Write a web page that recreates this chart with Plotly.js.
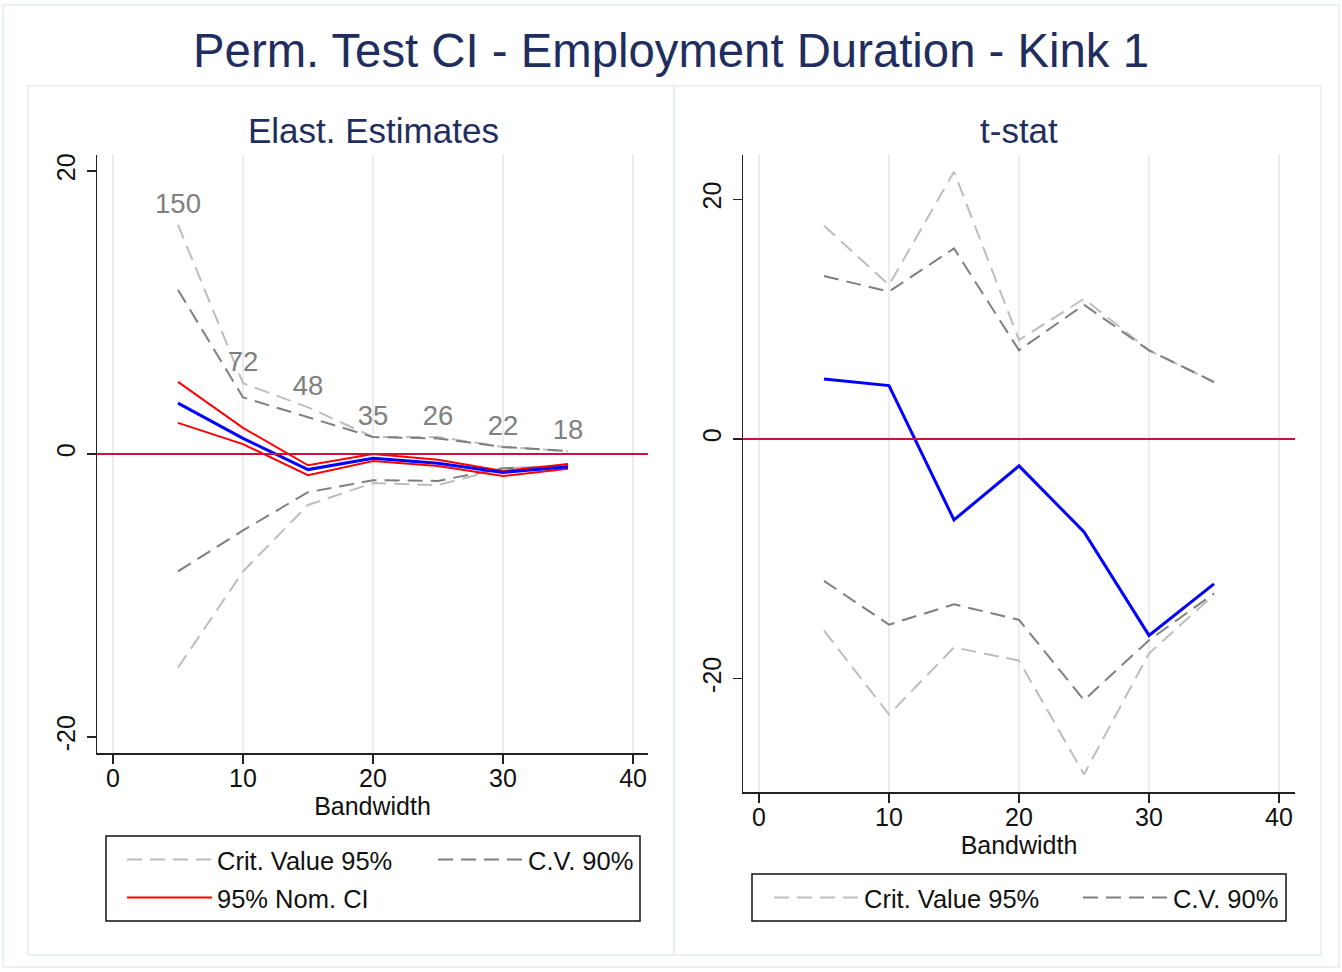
<!DOCTYPE html>
<html><head><meta charset="utf-8">
<script src="https://cdn.plot.ly/plotly-3.0.1.min.js"></script>
<style>html,body{margin:0;padding:0;background:#fff}</style>
</head><body><div id="chart" style="width:1342px;height:972px"></div>
<script>
// ---- data ----
const bandwidth = [5, 10, 15, 20, 25, 30, 35];
const sampleSize = ["150", "72", "48", "35", "26", "22", "18"];
const xTicks = [0, 10, 20, 30, 40];
const yTicks = [-20, 0, 20];
// Left panel: elasticity estimates
const elastEstimate = [3.6, 1.1, -1.1, -0.3, -0.65, -1.3, -0.9];
const nomCIUpper = [5.1, 1.85, -0.8, 0.0, -0.4, -1.2, -0.7];
const nomCILower = [2.2, 0.7, -1.5, -0.5, -0.85, -1.55, -1.05];
const elastCV95Upper = [16.2, 5.0, 3.3, 1.2, 1.2, 0.5, 0.2];
const elastCV90Upper = [11.6, 4.0, 2.6, 1.2, 1.1, 0.5, 0.2];
const elastCV95Lower = [-15.1, -8.3, -3.6, -2.05, -2.2, -1.0, -0.85];
const elastCV90Lower = [-8.3, -5.4, -2.7, -1.85, -1.9, -1.0, -0.9];
// Right panel: t-stat
const tStat = [5.0, 4.45, -6.76, -2.25, -7.76, -16.4, -12.1];
const tCV95Upper = [17.8, 12.85, 22.3, 8.26, 11.7, 7.4, 4.75];
const tCV90Upper = [13.6, 12.3, 15.9, 7.4, 11.2, 7.4, 4.75];
const tCV95Lower = [-16.0, -23.0, -17.4, -18.5, -28.0, -17.9, -13.0];
const tCV90Lower = [-11.85, -15.5, -13.8, -15.1, -21.8, -16.8, -12.9];

// ---- styling ----
const F = 'Liberation Sans, Arial, Helvetica, sans-serif';
const W = 1342, H = 972;
const px = v => v / W, py = v => 1 - v / H;
const NAVY = '#1f2e5e';
const LIGHT = '#bdbdbd', DARK = '#7f7f7f';
const DASH = '15px,8px';

function ln(x, y, color, width, dash, xa, ya, name, legend, lw) {
  const t = {x, y, type: 'scatter', mode: 'lines', name: name || '',
    line: {color, width, dash: dash || 'solid'}, xaxis: xa, yaxis: ya,
    legend: legend || 'legend', showlegend: !!name, hoverinfo: 'skip'};
  if (lw) t.legendwidth = lw;
  return t;
}

const traces = [
  ln(bandwidth, elastCV95Upper, LIGHT, 2, DASH, 'x', 'y', 'Crit. Value 95%', 'legend', 211),
  ln(bandwidth, elastCV90Upper, DARK, 2, DASH, 'x', 'y', 'C.V. 90%', 'legend', 110),
  ln(bandwidth, elastCV95Lower, LIGHT, 2, DASH, 'x', 'y'),
  ln(bandwidth, elastCV90Lower, DARK, 2, DASH, 'x', 'y'),
  ln(bandwidth, nomCIUpper, '#ff0000', 2, 'solid', 'x', 'y', '95% Nom. CI', 'legend3', 150),
  ln(bandwidth, nomCILower, '#ff0000', 2, 'solid', 'x', 'y'),
  ln(bandwidth, elastEstimate, '#0000ff', 3, 'solid', 'x', 'y'),
  {x: bandwidth, y: elastCV95Upper, text: sampleSize, type: 'scatter', mode: 'markers+text',
   marker: {size: 7, color: 'rgba(0,0,0,0)'},
   textposition: 'top center', textfont: {family: F, size: 27.5, color: '#808080'},
   xaxis: 'x', yaxis: 'y', showlegend: false, cliponaxis: false, hoverinfo: 'skip'},
  ln(bandwidth, tCV95Upper, LIGHT, 2, DASH, 'x2', 'y2', 'Crit. Value 95%', 'legend2', 209),
  ln(bandwidth, tCV90Upper, DARK, 2, DASH, 'x2', 'y2', 'C.V. 90%', 'legend2', 110),
  ln(bandwidth, tCV95Lower, LIGHT, 2, DASH, 'x2', 'y2'),
  ln(bandwidth, tCV90Lower, DARK, 2, DASH, 'x2', 'y2'),
  ln(bandwidth, tStat, '#0000ff', 3, 'solid', 'x2', 'y2')
];

function xax(domain, range, anchor) {
  return {domain, range, anchor, tickvals: xTicks, ticks: 'outside', ticklen: 9,
    tickwidth: 1.5, tickcolor: '#222', showline: true, linecolor: '#222', linewidth: 1.5,
    showgrid: true, gridcolor: '#ececec', gridwidth: 1.5, zeroline: false,
    ticklabelstandoff: -7,
    tickfont: {family: F, size: 25, color: '#111'},
    title: {text: 'Bandwidth', font: {family: F, size: 25, color: '#111'}, standoff: 4}};
}
function yax(domain, range, anchor) {
  return {domain, range, anchor, tickvals: yTicks, ticktext: yTicks.map(String),
    tickangle: -90, ticks: 'outside', ticklen: 9, tickwidth: 1.5, tickcolor: '#222',
    showline: true, linecolor: '#222', linewidth: 1.5, showgrid: false, zeroline: false,
    ticklabelstandoff: 2,
    tickfont: {family: F, size: 25, color: '#111'}};
}
function rect(x0, y0, x1, y1, color, width) {
  return {type: 'rect', xref: 'paper', yref: 'paper', x0: px(x0), x1: px(x1),
    y0: py(y1), y1: py(y0), line: {color, width}, layer: 'below'};
}
function leg(x, y) {
  return {x: px(x), xanchor: 'left', y: py(y), yanchor: 'middle', orientation: 'h',
    itemwidth: 85, entrywidth: 209, bgcolor: 'rgba(0,0,0,0)', borderwidth: 0,
    font: {family: F, size: 25.5, color: '#111'}, traceorder: 'normal'};
}

const layout = {
  width: W, height: H, margin: {l: 0, r: 0, t: 0, b: 0, autoexpand: false},
  paper_bgcolor: '#fff', plot_bgcolor: '#fff', font: {family: F},
  title: {text: 'Perm. Test CI - Employment Duration - Kink 1',
    font: {family: F, size: 47.3, color: NAVY}, x: 0.5, xanchor: 'center',
    y: py(50), yanchor: 'middle'},
  xaxis: xax([px(97), px(648)], [-1.23, 41.15], 'y'),
  yaxis: yax([py(753), py(155)], [-21.13, 21.13], 'x'),
  xaxis2: xax([px(743), px(1295)], [-1.23, 41.23], 'y2'),
  yaxis2: yax([py(792), py(155)], [-29.47, 23.7], 'x2'),
  legend: leg(122, 860),
  legend2: leg(769, 898),
  legend3: leg(122, 898),
  annotations: [
    {text: 'Elast. Estimates', xref: 'paper', yref: 'paper', x: px(373), y: py(130),
     xanchor: 'center', yanchor: 'middle', showarrow: false, font: {family: F, size: 35, color: NAVY}},
    {text: 't-stat', xref: 'paper', yref: 'paper', x: px(1019), y: py(130),
     xanchor: 'center', yanchor: 'middle', showarrow: false, font: {family: F, size: 35, color: NAVY}}
  ],
  shapes: [
    rect(3, 5, 1339, 967, '#e4eeee', 1.5),
    rect(28, 86, 674, 955, '#e4eeee', 1.5),
    rect(674, 86, 1321, 955, '#e4eeee', 1.5),
    {type: 'rect', xref: 'paper', yref: 'paper', x0: px(106), x1: px(640), y0: py(921), y1: py(836),
     line: {color: '#111', width: 1.5}},
    {type: 'rect', xref: 'paper', yref: 'paper', x0: px(752), x1: px(1286), y0: py(921), y1: py(874),
     line: {color: '#111', width: 1.5}},
    {type: 'line', xref: 'x domain', yref: 'y', x0: 0, x1: 1, y0: 0, y1: 0,
     line: {color: '#d0103a', width: 2}},
    {type: 'line', xref: 'x2 domain', yref: 'y2', x0: 0, x1: 1, y0: 0, y1: 0,
     line: {color: '#d0103a', width: 2}}
  ]
};

Plotly.newPlot('chart', traces, layout, {displayModeBar: false, staticPlot: true});
</script>
</body></html>
